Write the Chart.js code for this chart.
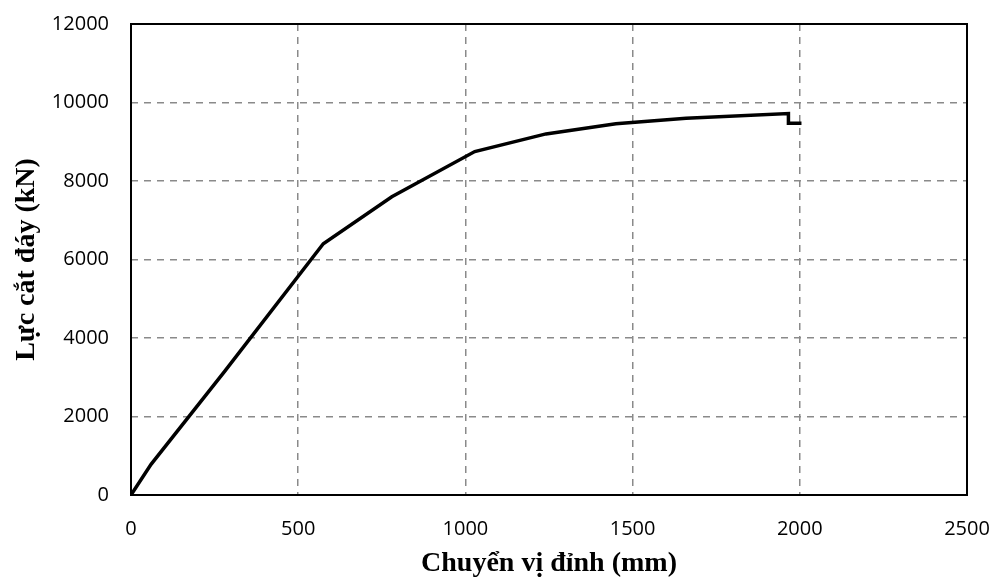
<!DOCTYPE html>
<html>
<head>
<meta charset="utf-8">
<script src="https://cdn.jsdelivr.net/npm/chart.js@4/dist/chart.umd.min.js"></script>
<style>
  html, body { margin: 0; padding: 0; background: #fff; }
  #wrap { width: 996px; height: 583px; }
</style>
</head>
<body>
<div id="wrap"><canvas id="c" width="996" height="583"></canvas></div>
<script>
// Pushover curve: top displacement (mm) vs base shear (kN)
const topDisplacement = [0, 60, 280, 575, 780, 1028, 1241, 1450, 1660, 1966, 1966, 2005];
const baseShear       = [0, 780, 3150, 6400, 7600, 8750, 9200, 9460, 9600, 9720, 9470, 9470];

const xTicks = [0, 500, 1000, 1500, 2000, 2500];
const yTicks = [0, 2000, 4000, 6000, 8000, 10000, 12000];

const xTitle = 'Chuyển vị đỉnh (mm)';
const yTitle = 'Lực cắt đáy (kN)';

const points = topDisplacement.map((x, i) => ({ x: x, y: baseShear[i] }));

// Solid frame around the plotting area
const frame = {
  id: 'frame',
  afterDatasetsDraw(chart) {
    const a = chart.chartArea, ctx = chart.ctx;
    ctx.save();
    ctx.strokeStyle = '#000';
    ctx.lineWidth = 2;
    ctx.setLineDash([]);
    ctx.strokeRect(a.left, a.top, a.right - a.left, a.bottom - a.top);
    ctx.restore();
  }
};

const tickFont = { family: '"Open Sans", sans-serif', size: 20 };
const titleFont = { family: '"Liberation Serif", "Times New Roman", serif', size: 28, weight: 'bold' };
const plain = (v) => String(v);

new Chart(document.getElementById('c'), {
  type: 'line',
  data: {
    datasets: [{
      data: points,
      borderColor: '#000',
      borderWidth: 3.5,
      pointRadius: 0,
      fill: false,
      tension: 0
    }]
  },
  options: {
    responsive: false,
    animation: false,
    devicePixelRatio: 1,
    layout: { padding: { top: 24, right: 29, left: 0, bottom: 0 } },
    plugins: { legend: { display: false }, tooltip: { enabled: false } },
    scales: {
      x: {
        type: 'linear',
        min: 0, max: 2500,
        afterBuildTicks(s) { s.ticks = xTicks.map(v => ({ value: v })); },
        afterFit(s) { s.height = 88; s.paddingLeft = 0; s.paddingRight = 0; },
        grid: {
          color: (c) => (c.tick && (c.tick.value === 0 || c.tick.value === 2500)) ? 'rgba(0,0,0,0)' : '#8a8a8a',
          lineWidth: 1.5,
          drawTicks: false
        },
        border: { display: false, dash: [7, 6] },
        ticks: { color: '#000', font: tickFont, padding: 22, maxRotation: 0, callback: plain },
        title: { display: true, text: xTitle, color: '#000', font: titleFont, padding: { top: 4, bottom: 2 } }
      },
      y: {
        type: 'linear',
        min: 0, max: 12000,
        afterBuildTicks(s) { s.ticks = yTicks.map(v => ({ value: v })); },
        afterFit(s) { s.width = 131; s.paddingTop = 0; s.paddingBottom = 0; },
        grid: {
          color: (c) => (c.tick && (c.tick.value === 0 || c.tick.value === 12000)) ? 'rgba(0,0,0,0)' : '#8a8a8a',
          lineWidth: 1.5,
          drawTicks: false
        },
        border: { display: false, dash: [7, 6] },
        ticks: { color: '#000', font: tickFont, padding: 22, callback: plain },
        title: { display: true, text: yTitle, color: '#000', font: titleFont, padding: { top: 10, bottom: 4 } }
      }
    }
  },
  plugins: [frame]
});
</script>
</body>
</html>
